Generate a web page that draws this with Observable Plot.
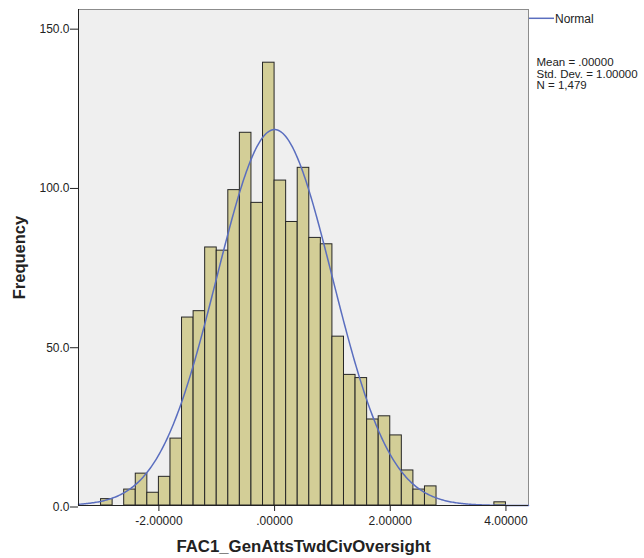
<!DOCTYPE html>
<html><head><meta charset="utf-8">
<script src="https://cdn.jsdelivr.net/npm/d3@7"></script>
<script src="https://cdn.jsdelivr.net/npm/@observablehq/plot@0.6"></script>
<style>body{margin:0;background:#fff}</style>
</head><body><div id="chart"></div>
<script>
// Histogram bins (left edges) and frequencies
const binLeft = [-3.0,-2.8,-2.6,-2.4,-2.2,-2.0,-1.8,-1.6,-1.4,-1.2,-1.0,-0.8,-0.6,-0.4,-0.2,
                 0.0,0.2,0.4,0.6,0.8,1.0,1.2,1.4,1.6,1.8,2.0,2.2,2.4,2.6,2.8,3.0,3.2,3.4,3.6,3.8];
const counts  = [2,0,5,10,4,9,21,59,61,81,80,99,117,95,139,
                 102,89,106,84,82,53,41,40,27,28,22,11,5,6,0,0,0,0,0,1];
const binWidth = 0.2;

// Fitted normal parameters (from the legend)
const meanVal = 0, sdVal = 1, nVal = 1479;

const xTicks = [-2, 0, 2, 4];
const xTickLabels = ["-2.00000", ".00000", "2.00000", "4.00000"];
const yTicks = [0, 50, 100, 150];
const yTickLabels = ["0.0", "50.0", "100.0", "150.0"];
const xLabel = "FAC1_GenAttsTwdCivOversight";
const yLabel = "Frequency";
const legendLabel = "Normal";
const statsLines = ["Mean = .00000", "Std. Dev. = 1.00000", "N = 1,479"];

const bars = binLeft.map((b, i) => ({x1: b, x2: b + binWidth, count: counts[i]})).filter(d => d.count > 0);

const xDomain = [-3.39, 4.39];
const pdf = x => Math.exp(-0.5 * ((x - meanVal) / sdVal) ** 2) / (sdVal * Math.sqrt(2 * Math.PI));
const curve = d3.range(xDomain[0], xDomain[1] + 0.001, 0.02).map(x => ({x, y: nVal * binWidth * pdf(x)}));

const W = 644, H = 558, mL = 78, mR = 116, mT = 9, mB = 53;
const font = "'Liberation Sans', Arial, sans-serif";

const plot = Plot.plot({
  width: W, height: H,
  marginLeft: mL, marginRight: mR, marginTop: mT, marginBottom: mB,
  style: {fontFamily: font, fontSize: "12px", background: "#fff", color: "#222", overflow: "visible"},
  x: {domain: xDomain, label: null},
  y: {domain: [0, 155.7], label: null},
  marks: [
    Plot.frame({fill: "#efefef", stroke: "#8c8c8c"}),
    Plot.rectY(bars, {x1: "x1", x2: "x2", y: "count", fill: "#d3ce97", stroke: "#262626", strokeWidth: 1}),
    Plot.line(curve, {x: "x", y: "y", stroke: "#5a6ebf", strokeWidth: 1.5, curve: "linear"}),
    Plot.ruleX([xDomain[0]], {stroke: "#222"}),
    Plot.ruleY([0], {stroke: "#222"}),
    Plot.axisX({ticks: xTicks, tickFormat: (d) => xTickLabels[xTicks.indexOf(d)], tickSize: 6, tickPadding: 5, fontSize: 12, label: null}),
    Plot.axisY({ticks: yTicks, tickFormat: (d) => yTickLabels[yTicks.indexOf(d)], tickSize: 8, tickPadding: 1, dy: 1.5, fontSize: 12, label: null}),
    Plot.text([xLabel], {frameAnchor: "bottom", dy: 41, text: d => d, fontSize: 16.8, fontWeight: "bold", fill: "#222", textAnchor: "middle", lineAnchor: "middle"}),
    Plot.text([yLabel], {frameAnchor: "left", dx: -59, text: d => d, rotate: -90, fontSize: 16.5, fontWeight: "bold", fill: "#222", textAnchor: "middle", lineAnchor: "middle"}),
    Plot.text([legendLabel], {frameAnchor: "top-right", dx: 26.5, dy: 13.5, text: d => d, textAnchor: "start", lineAnchor: "bottom", fontSize: 12, fill: "#222"}),
    ...statsLines.map((s, i) => Plot.text([s], {frameAnchor: "top-right", dx: 8, dy: 56.5 + i * 11.5, text: d => d, textAnchor: "start", lineAnchor: "bottom", fontSize: 11.5, fill: "#222"}))
  ]
});

// legend swatch line for the Normal curve
d3.select(plot).append("line")
  .attr("x1", W - mR + 1).attr("x2", W - mR + 26)
  .attr("y1", mT + 9.3).attr("y2", mT + 9.3)
  .attr("stroke", "#5a6ebf").attr("stroke-width", 1.5);

document.getElementById("chart").appendChild(plot);
</script>
</body></html>
